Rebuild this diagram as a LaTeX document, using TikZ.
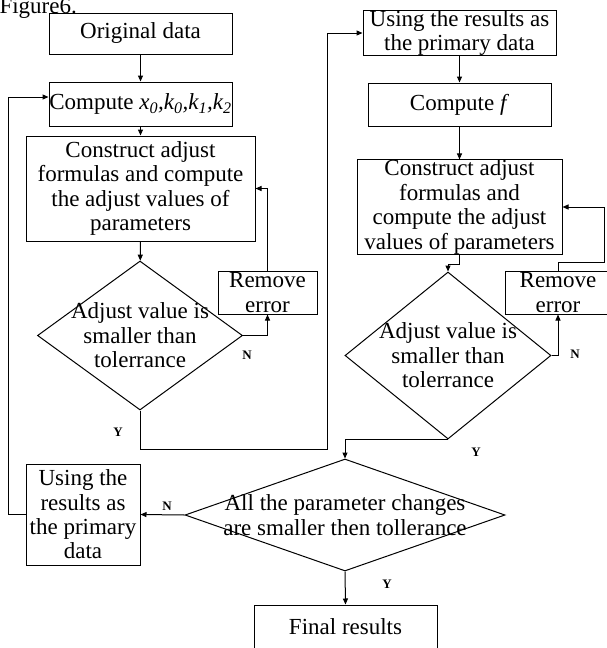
\documentclass[tikz,border=0pt]{standalone}
\usepackage{fontspec}
\setmainfont{Liberation Serif}
\usetikzlibrary{shapes.geometric,arrows.meta}

\begin{document}
\begin{tikzpicture}[x=1pt,y=-1pt,line width=1pt,
    >={Triangle[length=6pt,width=5pt]},
    box/.style={draw, align=center, inner sep=0pt, font=\fontsize{23}{24.4}\selectfont},
    test/.style={diamond, draw, inner sep=0pt},
    txt/.style={align=center, inner sep=0pt, font=\fontsize{23}{24.4}\selectfont},
    yn/.style={inner sep=0pt, font=\fontsize{13}{13}\selectfont\bfseries},
]

\useasboundingbox (0,0) rectangle (606,648);

\node[txt, anchor=base west] (fig) at (-1,13) {Figure6.};

\node[box, minimum width=183pt, minimum height=41pt] (orig) at (140.5,33.5) {Original data};
\node[box, minimum width=183pt, minimum height=44pt] (comp) at (140.5,104) {Compute \textit{x\textsubscript{0},k\textsubscript{0},k\textsubscript{1},k\textsubscript{2}}};
\node[box, minimum width=229pt, minimum height=105pt] (cons) at (140.5,188.5) {Construct adjust\\formulas and compute\\the adjust values of\\parameters};
\node[test, minimum width=205pt, minimum height=149pt] (dia1) at (140,335.5) {};
\node[txt] (dt1) at (dia1) {Adjust value is\\smaller than\\tolerrance};
\node[box, minimum width=99pt, minimum height=43pt] (rem1) at (267.5,292.5) {Remove\\error};

\node[box, minimum width=193pt, minimum height=42pt] (use1) at (459.5,33) {Using the results as\\the primary data};
\node[box, minimum width=183pt, minimum height=43pt] (compf) at (459.5,104.5) {Compute \textit{f}};
\node[box, minimum width=205pt, minimum height=88pt] (cons2) at (459.5,207) {Construct adjust\\formulas and\\compute the adjust\\values of parameters};
\node[test, minimum width=206pt, minimum height=167pt] (dia2) at (448,355.5) {};
\node[txt] (dt2) at (dia2) {Adjust value is\\smaller than\\tolerrance};
\node[box, minimum width=106pt, minimum height=43pt] (rem2) at (558,292.5) {Remove\\error};

\node[test, minimum width=320pt, minimum height=112pt] (dia3) at (345,515) {};
\node[txt] (dt3) at (dia3) {All the parameter changes\\are smaller then tollerance};
\node[box, minimum width=114pt, minimum height=101pt] (use2) at (83,514.5) {Using the\\results as\\the primary\\data};
\node[box, minimum width=183pt, minimum height=44pt] (fin) at (345.5,627) {Final results};

\coordinate (j1) at (327,449);
\coordinate (j2) at (604,262);
\coordinate (j3) at (8,97);

\draw[->] (orig) -- (comp);
\draw[->] (comp) -- (cons);
\draw[->] (cons) -- (dia1);
\draw[->] (dia1.east) -| (rem1.south);
\draw[->] (rem1.north) |- (cons.east);
\draw[->] (dia1.south) |- (j1) |- (use1.west);

\draw[->] (use1) -- (compf);
\draw[->] (compf) -- (cons2);
\draw[->] (cons2.south) -- ++(0,10) -| (dia2.north);
\draw[->] (dia2.east) -| (rem2.south);
\draw[->] (rem2.north) |- (j2) |- (cons2.east);
\draw[->] (dia2.south) -| (dia3.north);

\draw[->] (dia3.west) -- (use2.east);
\draw[->] (use2.west) -| (j3) -- (j3 -| comp.west);
\draw[->] (dia3.south) -- (fin.north);

\node[yn] (n1) at (247,355) {N};
\node[yn] (y1) at (118,432) {Y};
\node[yn] (n2) at (575,354) {N};
\node[yn] (y2) at (476,452) {Y};
\node[yn] (n3) at (167,506) {N};
\node[yn] (y3) at (387,584) {Y};

\end{tikzpicture}
\end{document}
